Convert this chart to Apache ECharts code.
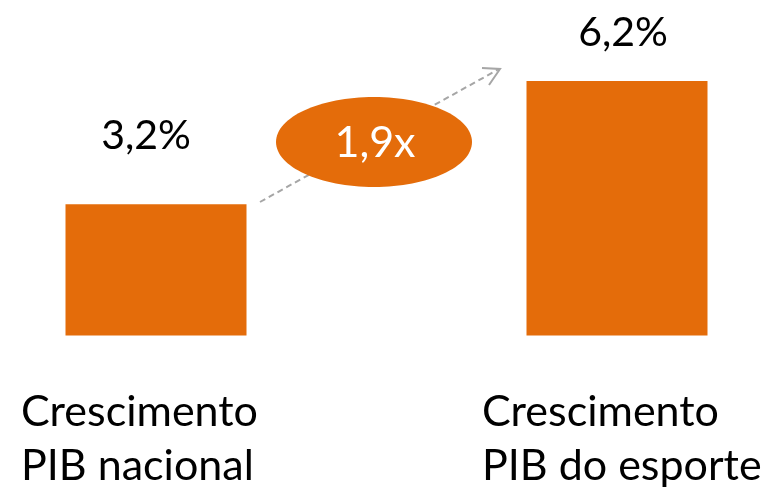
<!DOCTYPE html>
<html>
<head>
<meta charset="utf-8">
<script src="https://cdn.jsdelivr.net/npm/echarts@6/dist/echarts.min.js"></script>
<style>
  html, body { margin: 0; padding: 0; background: #fff; }
  #chart { width: 773px; height: 488px; }
</style>
</head>
<body>
<div id="chart"></div>
<script>
let chartDom = document.getElementById('chart');
let myChart = echarts.init(chartDom);

const categories = ['Crescimento\nPIB nacional', 'Crescimento\nPIB do esporte'];
const growth = [3.2, 6.2];
const ratioLabel = '1,9x';

const orange = '#E46C0A';
const font = 'Lato';

// label tweaks per bar (the source slide placed them by hand)
const labelStyles = [
    { distance: 48, offset: [-10, 0] },
    { distance: 28, offset: [6, 0] },
];

const option = {
    animation: false,
    grid: {
        left: 156,
        right: 156,
        top: 81,
        bottom: 150,
    },
    xAxis: {
        type: 'category',
        data: categories,
        boundaryGap: false,
        axisLine: { show: false },
        axisTick: { show: false },
        axisLabel: {
            interval: 0,
            margin: 50,
            formatter: value => value.split('\n').map(line => '{a|' + line + '}').join('\n'),
            rich: {
                a: {
                    width: 270,
                    align: 'left',
                    fontFamily: font,
                    fontSize: 43,
                    lineHeight: 54,
                    color: '#000',
                },
            },
        },
    },
    yAxis: {
        type: 'value',
        min: 0,
        max: 6.2,
        show: false,
        splitLine: { show: false },
    },
    series: [
        {
            type: 'bar',
            data: growth.map((v, i) => ({ value: v, label: labelStyles[i] })),
            barWidth: 181,
            itemStyle: { color: orange },
            label: {
                show: true,
                position: 'top',
                formatter: p => String(p.value).replace('.', ',') + '%',
                fontFamily: font,
                fontSize: 41,
                color: '#000',
            },
        },
    ],
    graphic: [
        {
            type: 'line',
            shape: { x1: 260, y1: 202, x2: 499, y2: 69 },
            style: { stroke: '#A6A6A6', lineWidth: 2, lineDash: [6, 4] },
        },
        {
            type: 'polyline',
            shape: { points: [[482, 68], [500, 69], [489, 85]] },
            style: { stroke: '#A6A6A6', lineWidth: 2, fill: null },
        },
        {
            type: 'ellipse',
            shape: { cx: 374, cy: 142, rx: 98, ry: 45 },
            style: { fill: orange },
        },
        {
            type: 'text',
            x: 375,
            y: 143,
            style: {
                text: ratioLabel,
                fill: '#fff',
                fontFamily: font,
                fontSize: 43,
                align: 'center',
                verticalAlign: 'middle',
            },
        },
    ],
};

myChart.setOption(option);
</script>
</body>
</html>
